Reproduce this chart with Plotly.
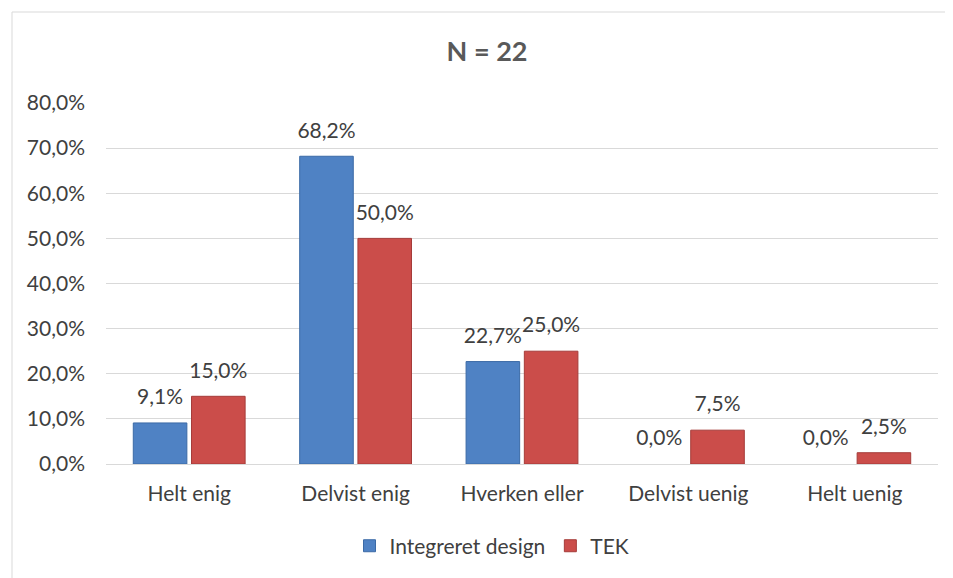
import plotly.graph_objects as go

categories = ["Helt enig", "Delvist enig", "Hverken eller", "Delvist uenig", "Helt uenig"]
integreret = [0.091, 0.682, 0.227, 0.0, 0.0]
tek = [0.150, 0.500, 0.250, 0.075, 0.025]
series_names = ["Integreret design", "TEK"]
y_ticks = [0.0, 0.1, 0.2, 0.3, 0.4, 0.5, 0.6, 0.7, 0.8]

FONT = "Lato"
TXT = "#404040"
FS = 21

W, H = 945, 570
L, R, T, B = 98, 15, 95, 110
PW, PH = W - L - R, H - T - B

fig = go.Figure()
for name, vals, col, lcol, grp in [
    (series_names[0], integreret, "#4f82c4", "#3b6aa6", "a"),
    (series_names[1], tek, "#cb4d4a", "#a53b39", "b"),
]:
    fig.add_trace(go.Bar(
        x=categories, y=vals, name=name, offsetgroup=grp,
        marker=dict(color=col, line=dict(color=lcol, width=[1 if v > 0 else 0 for v in vals])),
    ))
for vals, grp in [(integreret, "a"), (tek, "b")]:
    fig.add_trace(go.Scatter(
        x=categories, y=vals, offsetgroup=grp, mode="markers+text",
        marker=dict(size=20, color="rgba(0,0,0,0)"),
        texttemplate="%{y:.1%}", textposition="top center",
        textfont=dict(family=FONT, size=FS, color=TXT),
        showlegend=False, hoverinfo="skip", cliponaxis=False,
    ))

fig.update_layout(
    width=W, height=H,
    separators=",.",
    paper_bgcolor="white", plot_bgcolor="white",
    margin=dict(l=L, r=R, t=T, b=B),
    barmode="group", bargap=0.3, bargroupgap=0.08,
    scattermode="group",
    title=dict(text="<b>N = 22</b>", x=479/W, xanchor="center", y=1-44/H, yanchor="middle",
               font=dict(family=FONT, size=27, color="#595959")),
    font=dict(family=FONT, size=FS, color=TXT),
    showlegend=True,
    legend=dict(orientation="h", x=(484-L)/PW, xanchor="center", y=-(543-(T+PH))/PH, yanchor="middle",
                font=dict(family=FONT, size=FS, color=TXT), itemwidth=30, traceorder="normal"),
    xaxis=dict(showgrid=False, showline=True, linecolor="#d9d9d9", linewidth=1,
               ticks="", ticklabelstandoff=11, tickfont=dict(family=FONT, size=FS, color=TXT)),
    yaxis=dict(range=[0, 0.8], tickvals=y_ticks, tickformat=".1%", showgrid=True,
               gridcolor="#d9d9d9", gridwidth=1, zeroline=False, showline=False,
               ticks="", ticklabelstandoff=20, tickfont=dict(family=FONT, size=FS, color=TXT)),
    shapes=[dict(type="rect", xref="paper", yref="paper",
                 x0=-(L - 4) / PW, x1=1 + 40 / PW, y0=-(B + 20) / PH, y1=1 + (T - 3) / PH,
                 line=dict(color="#d9d9d9", width=1), fillcolor="rgba(0,0,0,0)", layer="below")],
)

fig.write_html("out.html")
